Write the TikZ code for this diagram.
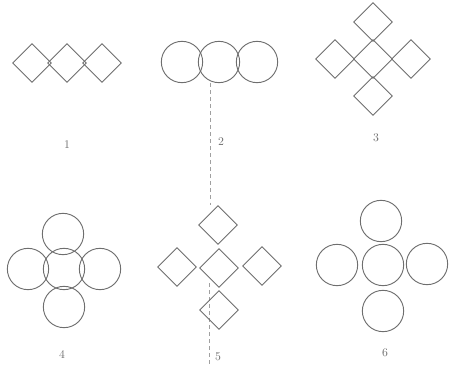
\documentclass[tikz,border=0pt]{standalone}
\usepackage{tikz}
\usetikzlibrary{shapes.geometric,positioning}
\definecolor{inkGray}{RGB}{110,110,110}
\definecolor{foldGray}{RGB}{160,160,160}
\tikzset{
  sq/.style={diamond, draw=inkGray, line width=0.8pt, inner sep=0pt, minimum size=1.17cm},
  ring/.style={circle, draw=inkGray, line width=0.8pt, inner sep=0pt, minimum size=1.24cm},
  num/.style={font=\fontsize{10}{12}\selectfont, text=inkGray},
}
\begin{document}
\begin{tikzpicture}[x=0.03cm,y=-0.03cm]
      \useasboundingbox (0,0) rectangle (449,367);
      % Fold line
      \coordinate (foldA) at (210,83);
      \coordinate (foldB) at (210,205);
      \coordinate (foldC) at (209,283);
      \coordinate (foldD) at (209,367);
      \draw[dashed,foldGray,line width=0.5pt] (foldA) -- (foldB);
      \draw[dashed,foldGray,line width=0.5pt] (foldC) -- (foldD);
      % 1: row of squares
      \node[sq] (oneL) at (32,63) {};
      \node[sq] (oneM) at (67,63) {};
      \node[sq] (oneR) at (102,63) {};
      \node[num] (labOne) at (67,145) {1};
      % 2: row of circles
      \node[ring] (twoL) at (182,62) {};
      \node[ring] (twoM) at (219,62) {};
      \node[ring] (twoR) at (257,62) {};
      \node[num] (labTwo) at (221,142) {2};
      % 3: cross of squares
      \node[sq] (threeC) at (373,59) {};
      \node[sq] (threeT) at (373,22) {};
      \node[sq] (threeB) at (373,96) {};
      \node[sq] (threeL) at (335,59) {};
      \node[sq] (threeR) at (411,59) {};
      \node[num] (labThree) at (376,138) {3};
      % 4: cross of circles
      \node[ring] (fourC) at (64,269) {};
      \node[ring] (fourT) at (63,234) {};
      \node[ring] (fourB) at (64,307) {};
      \node[ring] (fourL) at (28,269) {};
      \node[ring] (fourR) at (100,269) {};
      \node[num] (labFour) at (62,355) {4};
      % 5: spaced squares
      \node[sq] (fiveC) at (219,268) {};
      \node[sq] (fiveT) at (218,225) {};
      \node[sq] (fiveB) at (219,310) {};
      \node[sq] (fiveL) at (177,267) {};
      \node[sq] (fiveR) at (262,266) {};
      \node[num] (labFive) at (218,357) {5};
      % 6: spaced circles
      \node[ring] (sixC) at (383,265) {};
      \node[ring] (sixT) at (381,221) {};
      \node[ring] (sixB) at (383,311) {};
      \node[ring] (sixL) at (337,265) {};
      \node[ring] (sixR) at (427,264) {};
      \node[num] (labSix) at (385,353) {6};
    \end{tikzpicture}
\end{document}
